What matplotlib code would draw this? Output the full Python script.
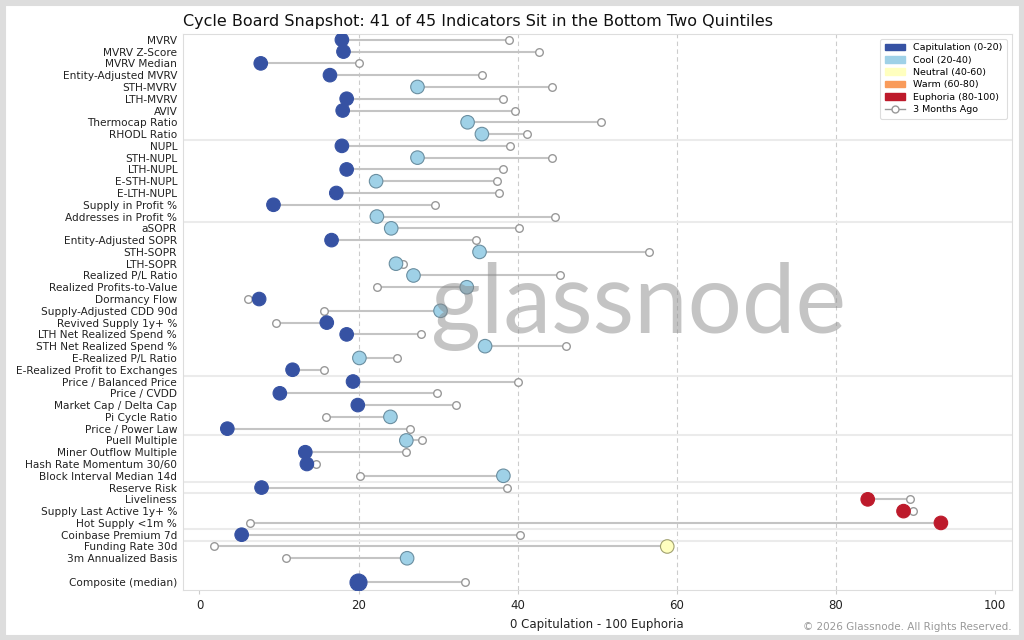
import matplotlib
matplotlib.use("Agg")
import matplotlib.pyplot as plt
from matplotlib.patches import Patch, Rectangle
from matplotlib.lines import Line2D

labels = ["MVRV", "MVRV Z-Score", "MVRV Median", "Entity-Adjusted MVRV", "STH-MVRV", "LTH-MVRV",
          "AVIV", "Thermocap Ratio", "RHODL Ratio",
          "NUPL", "STH-NUPL", "LTH-NUPL", "E-STH-NUPL", "E-LTH-NUPL", "Supply in Profit %",
          "Addresses in Profit %",
          "aSOPR", "Entity-Adjusted SOPR", "STH-SOPR", "LTH-SOPR", "Realized P/L Ratio",
          "Realized Profits-to-Value", "Dormancy Flow", "Supply-Adjusted CDD 90d",
          "Revived Supply 1y+ %", "LTH Net Realized Spend %", "STH Net Realized Spend %",
          "E-Realized P/L Ratio", "E-Realized Profit to Exchanges",
          "Price / Balanced Price", "Price / CVDD", "Market Cap / Delta Cap", "Pi Cycle Ratio",
          "Price / Power Law",
          "Puell Multiple", "Miner Outflow Multiple", "Hash Rate Momentum 30/60",
          "Block Interval Median 14d",
          "Reserve Risk",
          "Liveliness", "Supply Last Active 1y+ %", "Hot Supply <1m %",
          "Coinbase Premium 7d",
          "Funding Rate 30d", "3m Annualized Basis"]
group_sizes = [9, 7, 13, 5, 4, 1, 3, 1, 2]

current = [17.9, 18.1, 7.7, 16.4, 27.4, 18.5, 18.0, 33.7, 35.5,
           17.9, 27.4, 18.5, 22.2, 17.2, 9.3, 22.3,
           24.1, 16.6, 35.2, 24.7, 26.9, 33.6, 7.5, 30.3, 16.0, 18.5, 35.9, 20.1, 11.7,
           19.3, 10.1, 19.9, 24.0, 3.5,
           26.0, 13.3, 13.5, 38.2,
           7.8,
           84.0, 88.5, 93.2,
           5.3,
           58.8, 26.1]
past = [38.9, 42.7, 20.1, 35.5, 44.3, 38.2, 39.7, 50.5, 41.2,
        39.0, 44.3, 38.2, 37.4, 37.7, 29.6, 44.7,
        40.2, 34.7, 56.5, 25.6, 45.3, 22.3, 6.1, 15.7, 9.6, 27.8, 46.1, 24.8, 15.7,
        40.1, 29.9, 32.2, 15.9, 26.4,
        28.0, 25.9, 14.7, 20.2,
        38.7,
        89.3, 89.7, 6.3,
        40.3,
        1.8, 10.9]

composite_label = "Composite (median)"
composite_current = 19.9
composite_past = 33.4

zone_names = ["Capitulation (0-20)", "Cool (20-40)", "Neutral (40-60)", "Warm (60-80)",
              "Euphoria (80-100)"]
zone_colors = ["#3652a3", "#9fd1e7", "#ffffbf", "#f99b5a", "#bd1a2b"]
zone_edges = ["#3652a3", "#6a8ea0", "#a0a070", "#b07040", "#bd1a2b"]
zone_bounds = [20, 40, 60, 80]
grid_x = [20, 40, 60, 80]
xticks = [0, 20, 40, 60, 80, 100]


def zone(v):
    for i, b in enumerate(zone_bounds):
        if v < b:
            return i
    return len(zone_bounds)


fig = plt.figure(figsize=(10.24, 6.4), dpi=100)
ax = fig.add_axes([0.1785, 0.078, 0.8095, 0.869])

n = len(labels)
ys = list(range(n))
comp_y = n + 1

for x in grid_x:
    ax.axvline(x, color="#cccccc", lw=0.8, ls=(0, (4, 3)), zorder=0)

# group separators
pos = 0
for g in group_sizes[:-1]:
    pos += g
    ax.axhline(pos - 0.5, color="#ebebeb", lw=1.5, zorder=0)

all_y = ys + [comp_y]
all_cur = current + [composite_current]
all_past = past + [composite_past]
for y, c, p in zip(all_y, all_cur, all_past):
    ax.plot([p, c], [y, y], color="#c4c4c4", lw=1.5, zorder=1, solid_capstyle="butt")

ax.scatter(past + [composite_past], all_y, s=30, facecolor="white", edgecolor="#999999",
           linewidth=1.0, zorder=2)

cols = [zone_colors[zone(v)] for v in current]
edges = [zone_edges[zone(v)] for v in current]
ax.scatter(current, ys, s=95, c=cols, edgecolors=edges, linewidths=0.8, zorder=3)
zc = zone(composite_current)
ax.scatter([composite_current], [comp_y], s=150, c=[zone_colors[zc]],
           edgecolors=[zone_edges[zc]], linewidths=0.8, zorder=3)

ax.set_yticks(all_y)
ax.set_yticklabels(labels + [composite_label], fontsize=7.6, color="#222222")
ax.set_ylim(n + 1.7, -0.5)
ax.set_xlim(-2.1, 102.1)
ax.set_xticks(xticks)
ax.tick_params(axis="x", labelsize=8.5, colors="#222222", color="#cccccc", length=3)
ax.tick_params(axis="y", length=0, pad=4)
ax.set_xlabel("0 Capitulation - 100 Euphoria", fontsize=8.5, color="#222222")
for sp in ax.spines.values():
    sp.set_color("#dddddd")
    sp.set_linewidth(0.8)

ax.set_title("Cycle Board Snapshot: 41 of 45 Indicators Sit in the Bottom Two Quintiles",
             loc="left", fontsize=11.5, color="#111111", pad=6)

handles = [Patch(facecolor=c, edgecolor=c, label=l) for c, l in zip(zone_colors, zone_names)]
handles.append(Line2D([0], [0], color="#999999", lw=1, marker="o", markerfacecolor="white",
                      markeredgecolor="#999999", markersize=5, label="3 Months Ago"))
leg = ax.legend(handles=handles, loc="upper right", fontsize=6.8, frameon=True,
                handlelength=2.2, handleheight=0.7, borderpad=0.5, labelspacing=0.35,
                framealpha=1)
leg.get_frame().set_edgecolor("#dddddd")
leg.get_frame().set_linewidth(0.8)

fig.text(0.624, 0.521, "glassnode", fontsize=69, family="Lato", color="#8a8a8a",
         alpha=0.5, ha="center", va="center", zorder=10)

fig.text(0.988, 0.012, "\u00a9 2026 Glassnode. All Rights Reserved.", fontsize=7.5,
         color="#999999", ha="right", va="bottom")

fig.patches.append(Rectangle((0, 0), 1, 1, transform=fig.transFigure, fill=False,
                             edgecolor="#dddddd", linewidth=8, zorder=100))

fig.savefig("out.png", dpi=100, facecolor="white")
